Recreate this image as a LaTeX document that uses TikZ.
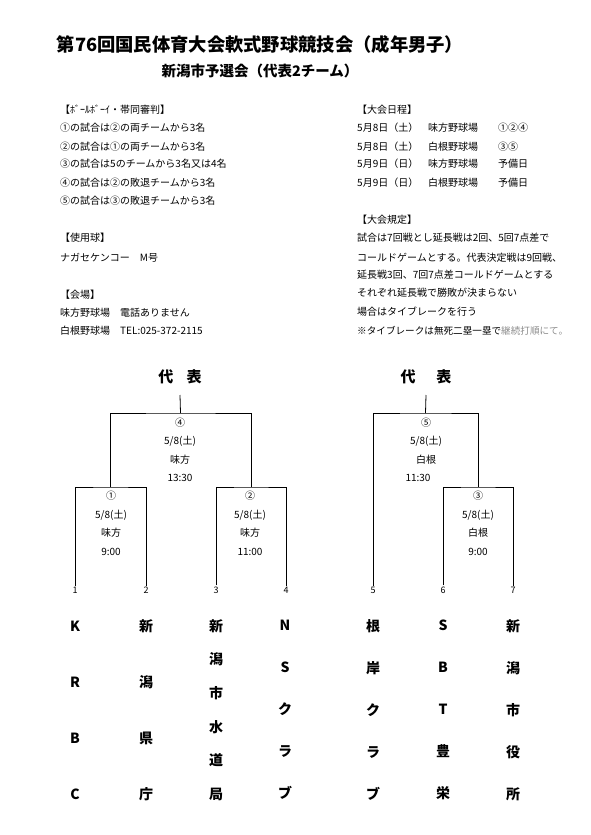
\documentclass[tikz,border=0pt]{standalone}
\usepackage{fontspec}
\setmainfont{Noto Sans CJK JP}

\begin{document}
\begin{tikzpicture}[x=1pt,y=-1pt]

\tikzset{info/.style = {anchor=west, inner sep=0pt, font=\fontsize{10}{12}\selectfont}}
\tikzset{leaf/.style = {inner sep=1pt, font=\fontsize{9}{10}\selectfont}}
\tikzset{game/.style = {align=center, inner sep=0pt, font=\fontsize{10}{18.5}\selectfont}}
\tikzset{team/.style = {align=center, inner sep=0pt, font=\bfseries\fontsize{14}{#1}\selectfont}}
\tikzset{head/.style = {inner sep=0pt, font=\bfseries\fontsize{15}{18}\selectfont}}
\tikzset{line/.style = {line width=0.8pt}}
\useasboundingbox (0,0) rectangle (591,835);

%title
\node[inner sep=0pt, font=\bfseries\fontsize{18.3}{22}\selectfont] (title) at (260,45) {第76回国民体育大会軟式野球競技会（成年男子）};
\node[inner sep=0pt, font=\bfseries\fontsize{14.5}{18}\selectfont] (subtitle) at (260,71) {新潟市予選会（代表2チーム）};

%left notes
\node[info] (ref) at (60,110) {【ﾎﾞｰﾙﾎﾞｰｲ・帯同審判】};
\node[info] (ref1) at (60,128) {①の試合は②の両チームから3名};
\node[info] (ref2) at (60,147) {②の試合は①の両チームから3名};
\node[info] (ref3) at (60,164) {③の試合は5のチームから3名又は4名};
\node[info] (ref4) at (60,183) {④の試合は②の敗退チームから3名};
\node[info] (ref5) at (60,201) {⑤の試合は③の敗退チームから3名};
\node[info] (ball) at (60,238) {【使用球】};
\node[info] (ball1) at (60,258) {ナガセケンコー\quad M号};
\node[info] (site) at (60,295) {【会場】};
\node[info] (site1) at (60,313) {味方野球場\quad 電話ありません};
\node[info] (site2) at (60,331) {白根野球場\quad TEL:025-372-2115};

%right notes
\node[info] (plan) at (357,110) {【大会日程】};
\node[info] (plan1) at (357,128) {5月8日（土）};
\node[info] (plan2) at (357,147) {5月8日（土）};
\node[info] (plan3) at (357,164) {5月9日（日）};
\node[info] (plan4) at (357,183) {5月9日（日）};
\node[info] (park1) at (428,128) {味方野球場};
\node[info] (park2) at (428,147) {白根野球場};
\node[info] (park3) at (428,164) {味方野球場};
\node[info] (park4) at (428,183) {白根野球場};
\node[info] (games1) at (498,128) {①②④};
\node[info] (games2) at (498,147) {③⑤};
\node[info] (games3) at (498,164) {予備日};
\node[info] (games4) at (498,183) {予備日};
\node[info] (rule) at (357,220) {【大会規定】};
\node[info] (rule1) at (357,238) {試合は7回戦とし延長戦は2回、5回7点差で};
\node[info] (rule2) at (357,258) {コールドゲームとする。代表決定戦は9回戦、};
\node[info] (rule3) at (357,275) {延長戦3回、7回7点差コールドゲームとする};
\node[info] (rule4) at (357,293) {それぞれ延長戦で勝敗が決まらない};
\node[info] (rule5) at (357,312) {場合はタイブレークを行う};
\node[info, font=\fontsize{9.6}{12}\selectfont] (rule6) at (357,331) {※タイブレークは無死二塁一塁で{\color{black!45}継続打順にて。}};

%winners
\node[head] (win1) at (180,377) {代\hspace{0.9em}表};
\node[head] (win2) at (426,377) {代\hspace{1.4em}表};
\coordinate (top1) at (180,395);
\coordinate (top2) at (426,395);

%leaves
\node[leaf] (1) at (75,590) {1};
\node[leaf] (2) at (146,590) {2};
\node[leaf] (3) at (216,590) {3};
\node[leaf] (4) at (286,590) {4};
\node[leaf] (5) at (373,590) {5};
\node[leaf] (6) at (443,590) {6};
\node[leaf] (7) at (513,590) {7};

%matches
\coordinate (m1) at (110.5,487);
\coordinate (m2) at (251,487);
\coordinate (m3) at (478,487);
\coordinate (m4) at (180.5,413);
\coordinate (m5) at (425.5,413);
\node[game] (g1) at (111,523.5) {①\\5/8(土)\\味方\\9:00};
\node[game] (g2) at (250,523.5) {②\\5/8(土)\\味方\\11:00};
\node[game] (g3) at (478,523.5) {③\\5/8(土)\\白根\\9:00};
\node[game] (g4) at (180,450) {④\\5/8(土)\\味方\\13:30};
\node[game] (g5) at (426,450) {⑤\\5/8(土)\\白根\\11:30\hspace*{16pt}};

%lines
\draw[line] (1.north) |- (m1) -| (2.north);
\draw[line] (3.north) |- (m2) -| (4.north);
\draw[line] (6.north) |- (m3) -| (7.north);
\draw[line] (m1) |- (m4) -| (m2);
\draw[line] (5.north) |- (m5) -| (m3);
\draw[line] (m4) -- (top1);
\draw[line] (m5) -- (top2);

%teams
\node[team=56] (team1) at (75,710) {K\\R\\B\\C};
\node[team=56] (team2) at (146,710) {新\\潟\\県\\庁};
\node[team=33.6] (team3) at (216,710) {新\\潟\\市\\水\\道\\局};
\node[team=42] (team4) at (285,710) {N\\S\\ク\\ラ\\ブ};
\node[team=42] (team5) at (373,710) {根\\岸\\ク\\ラ\\ブ};
\node[team=42] (team6) at (443,710) {S\\B\\T\\豊\\栄};
\node[team=42] (team7) at (513,710) {新\\潟\\市\\役\\所};

\end{tikzpicture}
\end{document}
